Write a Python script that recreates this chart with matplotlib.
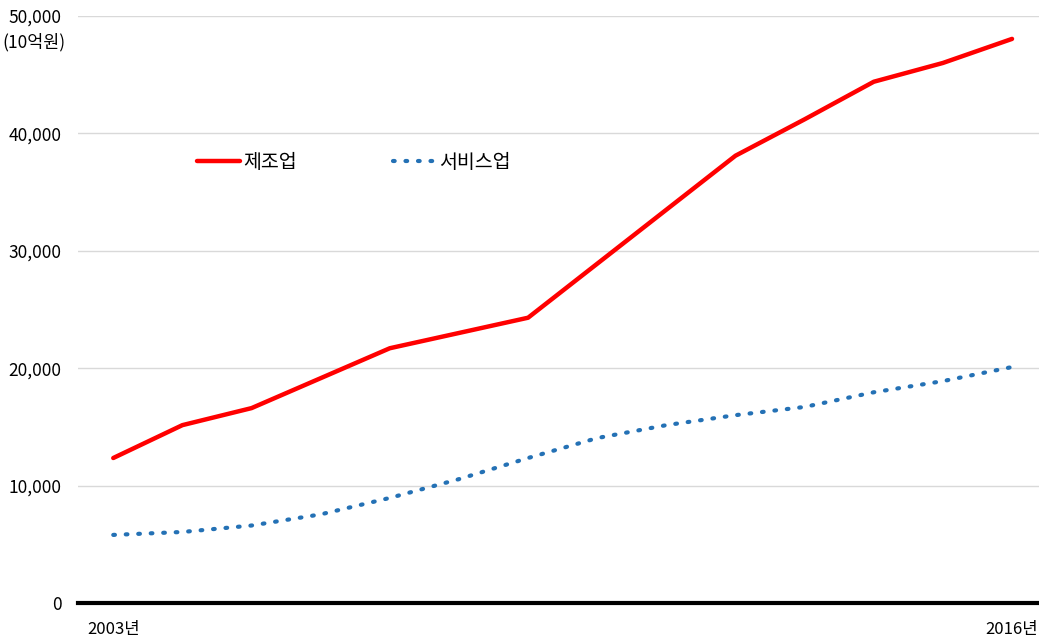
import matplotlib.pyplot as plt
from matplotlib.ticker import FuncFormatter

plt.rcParams['font.family'] = ['Noto Sans CJK KR', 'DejaVu Sans']

# data (10억원)
years = list(range(2003, 2017))
manufacturing = [12350, 15150, 16600, 19150, 21700, 23000, 24300,
                 28900, 33500, 38100, 41200, 44400, 46000, 48050]
services = [5800, 6050, 6600, 7550, 8950, 10550, 12350,
            14050, 15150, 16000, 16700, 17950, 18900, 20100]
series_names = ['제조업', '서비스업']
yticks = [0, 10000, 20000, 30000, 40000, 50000]

fig = plt.figure(figsize=(10.39, 6.39), dpi=100)
ax = fig.add_axes([78 / 1039, 36 / 639, 961 / 1039, 587 / 639])

ax.plot(years, manufacturing, color='#ff0000', lw=3.2,
        solid_capstyle='round', label=series_names[0], zorder=3)
ax.plot(years, services, color='#2471b5', lw=3.0,
        linestyle=(0, (0.4, 2.6)), dash_capstyle='round',
        label=series_names[1], zorder=3)

ax.set_xlim(2002.49, 2016.39)
ax.set_ylim(0, 50000)
ax.set_yticks(yticks)
ax.yaxis.set_major_formatter(FuncFormatter(lambda v, p: f'{int(v):,}'))
ax.grid(axis='y', color='#d9d9d9', lw=1)
ax.set_axisbelow(True)

for s in ['top', 'right', 'left']:
    ax.spines[s].set_visible(False)
ax.spines['bottom'].set_linewidth(3)
ax.spines['bottom'].set_color('black')
ax.spines['bottom'].set_zorder(4)

ax.tick_params(axis='y', length=0, pad=12, labelsize=12.5)
ax.set_xticks([2003, 2016])
ax.set_xticklabels(['2003년', '2016년'], fontsize=12)
ax.tick_params(axis='x', length=0, pad=13)

# unit label
fig.text(66 / 1039, 1 - 42 / 639, '(10억원)', ha='right', va='center', fontsize=12.5)

ax.legend(loc='center left', bbox_to_anchor=(0.1238, 0.751), ncol=2,
          frameon=False, fontsize=14, handlelength=2.2, handletextpad=0.2,
          columnspacing=4.9, borderpad=0, borderaxespad=0)

fig.savefig('out.png', dpi=100)
